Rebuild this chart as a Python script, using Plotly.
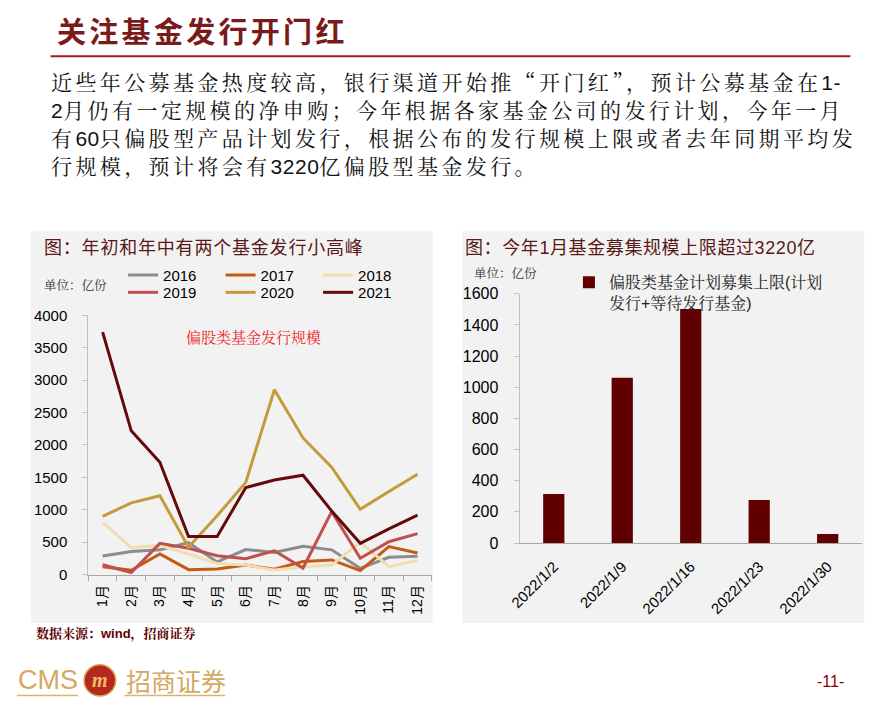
import re
import plotly.graph_objects as go

# ---------------- data ----------------
months = ["1月", "2月", "3月", "4月", "5月", "6月", "7月", "8月", "9月", "10月", "11月", "12月"]
years = ["2016", "2017", "2018", "2019", "2020", "2021"]
v2016 = [286, 356, 381, 491, 195, 386, 341, 436, 381, 95, 266, 281]
v2017 = [120, 65, 316, 75, 85, 145, 80, 200, 225, 60, 431, 331]
v2018 = [807, 416, 446, 316, 170, 145, 70, 120, 145, 500, 120, 220]
v2019 = [150, 30, 481, 406, 291, 245, 366, 100, 972, 250, 506, 631]
v2020 = [897, 1107, 1217, 421, 907, 1423, 2853, 2109, 1658, 1007, 1283, 1548]
v2021 = [3743, 2219, 1733, 586, 586, 1343, 1458, 1533, 982, 481, 706, 917]
series = [v2016, v2017, v2018, v2019, v2020, v2021]
colors = ["#8c8c8c", "#c55a11", "#f2dcb0", "#c0504d", "#c49a3a", "#650a0a"]

weeks = ["2022/1/2", "2022/1/9", "2022/1/16", "2022/1/23", "2022/1/30"]
upper_limit = [315, 1062, 1503, 277, 58]
bar_name = "偏股类基金计划募集上限(计划<br>发行+等待发行基金)"

# ---------------- helpers ----------------
W, H = 878, 706
def px(x):
    return x / W
def py(y):
    return 1 - y / H

SANS = "Liberation Sans, Noto Sans CJK SC"
SONG = "Liberation Sans, Noto Serif CJK SC, Noto Sans CJK SC"
CJK = "Noto Serif CJK SC, Noto Sans CJK SC"

fig = go.Figure()

for i, (yr, vals) in enumerate(zip(years, series)):
    fig.add_trace(go.Scatter(
        x=months, y=vals, name=yr, mode="lines",
        line=dict(color=colors[i], width=3),
        xaxis="x", yaxis="y",
        legend="legend" if i < 3 else "legend3",
    ))

fig.add_trace(go.Bar(
    x=weeks, y=upper_limit, name=bar_name,
    marker=dict(color="#600000", line=dict(width=0)),
    width=0.31, xaxis="x2", yaxis="y2", legend="legend2",
))

# panels
shapes = [
    dict(type="rect", xref="paper", yref="paper", x0=px(20), x1=px(427), y0=py(630), y1=py(228),
         fillcolor="#f2f2f2", line=dict(width=0), layer="below"),
    dict(type="rect", xref="paper", yref="paper", x0=px(457), x1=px(864), y0=py(630), y1=py(228),
         fillcolor="#f2f2f2", line=dict(width=0), layer="below"),
    dict(type="line", xref="paper", yref="paper", x0=px(40), x1=px(850), y0=py(48.5), y1=py(48.5),
         line=dict(color="#a3201c", width=2)),
    # logo
    dict(type="circle", xref="paper", yref="paper", x0=px(74), x1=px(106), y0=py(705), y1=py(673),
         fillcolor="#b5281f", line=dict(color="#d9a64e", width=1.5)),
    dict(type="line", xref="paper", yref="paper", x0=px(6), x1=px(68), y0=py(704.5), y1=py(704.5),
         line=dict(color="#d8b276", width=1.5)),
    dict(type="line", xref="paper", yref="paper", x0=px(115), x1=px(217), y0=py(704.5), y1=py(704.5),
         line=dict(color="#d8b276", width=1.5)),
]

body = [
    "近些年公募基金热度较高，银行渠道开始推“开门红”，预计公募基金在1-",
    "2月仍有一定规模的净申购；今年根据各家基金公司的发行计划，今年一月",
    "有60只偏股型产品计划发行，根据公布的发行规模上限或者去年同期平均发",
    "行规模，预计将会有3220亿偏股型基金发行。",
]
body_y = [73.5, 102.5, 131.5, 160.5]

def rich_line(s, spacing):
    parts = re.split(r"([0-9\-]+)", s)
    out = []
    for p in parts:
        if not p:
            continue
        if re.fullmatch(r"[0-9\-]+", p):
            out.append('<span style="font-family:Liberation Sans;letter-spacing:0.5px">%s</span>' % p)
        else:
            out.append('<span style="letter-spacing:%spx">%s</span>' % (spacing, p))
    return "".join(out)

ann = []
def text(x, y, s, size, color="#000000", family=SANS, xanchor="left", spacing=None, bold=False, raw=False):
    t = s
    if spacing is not None and not raw:
        t = '<span style="letter-spacing:%spx">%s</span>' % (spacing, t)
    if bold:
        t = "<b>" + t + "</b>"
    ann.append(dict(x=px(x), y=py(y), xref="paper", yref="paper", text=t, showarrow=False,
                    xanchor=xanchor, yanchor="middle", font=dict(size=size, color=color, family=family)))

text(45, 21.5, "关注基金发行开门红", 29, "#7a1a1a", "Noto Sans CJK SC", spacing=3.3, bold=True)
for s, yy in zip(body, body_y):
    text(38, yy, rich_line(s, 3.4), 21, "#111111", CJK, raw=True)

text(31, 245, "图：年初和年中有两个基金发行小高峰", 18, "#5a1818", SANS, spacing=0.8)
text(458, 245, "图：今年1月基金募集规模上限超过3220亿", 18, "#5a1818", SANS, spacing=0.6)
text(31, 284, "单位：亿份", 12.5, "#333333", SONG)
text(467, 272, "单位：亿份", 12.5, "#333333", SONG)
text(175, 337, "偏股类基金发行规模", 15, "#f01e1e", SONG)
text(23, 641.5, "数据来源：wind，招商证券", 13, "#5c0000", SONG, bold=True)
text(5, 689, "CMS", 27, "#d4a862", "Liberation Sans Narrow, Liberation Sans")
text(90, 689, "<i><b>m</b></i>", 20, "#f0c060", "Liberation Serif", xanchor="center")
text(114, 689, "招商证券", 25, "#d4a862", "Noto Sans CJK SC")
text(830, 690, "-11-", 16, "#8b0000", SANS, xanchor="center")

fig.update_layout(
    width=W, height=H,
    margin=dict(l=0, r=0, t=0, b=0),
    paper_bgcolor="white", plot_bgcolor="rgba(0,0,0,0)",
    shapes=shapes, annotations=ann,
    xaxis=dict(domain=[px(78.3), px(426.2)], anchor="y", type="category",
               range=[-0.5, 11.5], showgrid=False, zeroline=False,
               showline=True, linecolor="#a6a6a6", linewidth=1,
               ticks="outside", tickson="boundaries", ticklen=5, tickcolor="#a6a6a6",
               tickangle=-90, tickfont=dict(size=14, color="#000000", family=SANS),
               ticklabelstandoff=4),
    yaxis=dict(domain=[py(580.3), py(314.5)], anchor="x", range=[0, 4000],
               tickvals=[0, 500, 1000, 1500, 2000, 2500, 3000, 3500, 4000],
               showgrid=False, zeroline=False, showline=True, linecolor="#bfbfbf", linewidth=1,
               ticks="outside", ticklen=5, tickcolor="#bfbfbf",
               tickfont=dict(size=15, color="#000000", family=SANS), ticklabelstandoff=12),
    xaxis2=dict(domain=[px(515), px(861.7)], anchor="y2", type="category",
                range=[-0.5, 4.5], showgrid=False, zeroline=False,
                showline=True, linecolor="#a6a6a6", linewidth=1, ticks="",
                tickangle=-45, tickfont=dict(size=15, color="#000000", family=SANS),
                ticklabelstandoff=8),
    yaxis2=dict(domain=[py(548), py(292.3)], anchor="x2", range=[0, 1600],
                tickvals=[0, 200, 400, 600, 800, 1000, 1200, 1400, 1600],
                showgrid=False, zeroline=False, showline=True, linecolor="#bfbfbf", linewidth=1,
                ticks="outside", ticklen=5, tickcolor="#bfbfbf",
                tickfont=dict(size=16, color="#000000", family=SANS), ticklabelstandoff=12),
    legend=dict(orientation="h", x=px(113.5), y=py(273.3), xanchor="left", yanchor="middle",
                entrywidth=52.5, entrywidthmode="pixels", bgcolor="rgba(0,0,0,0)",
                font=dict(size=15, color="#000000", family=SANS), borderwidth=0),
    legend3=dict(orientation="h", x=px(113.5), y=py(291), xanchor="left", yanchor="middle",
                 entrywidth=52.5, entrywidthmode="pixels", bgcolor="rgba(0,0,0,0)",
                 font=dict(size=15, color="#000000", family=SANS), borderwidth=0),
    legend2=dict(orientation="v", x=px(565), y=py(263), xanchor="left", yanchor="top",
                 valign="top", bgcolor="rgba(0,0,0,0)",
                 font=dict(size=16, color="#222222", family=SONG), borderwidth=0),
)

fig.write_html("out.html", config={"displayModeBar": False},
               post_script="document.body.style.margin='0';document.body.style.overflow='hidden';")
